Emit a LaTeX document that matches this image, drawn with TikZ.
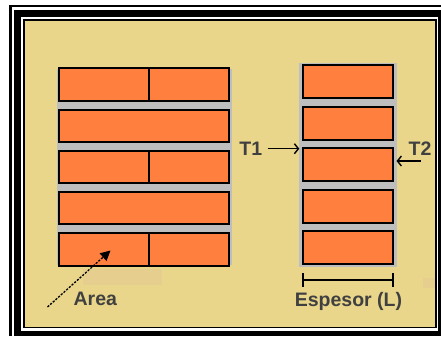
\documentclass[tikz,border=0pt]{standalone}
\usepackage{fontspec}
\setmainfont{Liberation Sans}
\usetikzlibrary{arrows.meta}
\definecolor{bg}{RGB}{233,214,138}
\definecolor{brick}{RGB}{255,127,63}
\definecolor{mortar}{RGB}{190,190,190}
\definecolor{txt}{RGB}{64,64,64}
\definecolor{tancol}{RGB}{230,206,142}
\tikzset{
  brickbox/.style={draw=black, line width=2pt, fill=brick},
  lbl/.style={inner sep=0pt, anchor=base, text=txt, font=\fontsize{19.5}{23}\selectfont\bfseries},
  tarrow/.style={line width=1.4pt, -{Straight Barb[length=4pt,width=10pt,line width=1.4pt]}},
  aarrow/.style={line width=1.3pt, dash pattern=on 2.2pt off 1.4pt, -{Triangle[length=10pt,width=10pt]}},
  bracket/.style={line width=1.8pt}
}
\begin{document}
\begin{tikzpicture}[x=1pt,y=-1pt]
\useasboundingbox (0,0) rectangle (441,341);
% frame
\fill[white] (0,0) rectangle (441,341);
\fill[black] (9.3,5) rectangle (441,336);
\fill[white] (11.7,7.3) rectangle (441,336);
\fill[black] (14,10) rectangle (441,336);
\fill[white] (21,16.7) rectangle (438.3,330.7);
\fill[black] (23.3,19.3) rectangle (436.7,328.3);
\fill[bg] (25,21) rectangle (435,326.7);
% faint tan rectangles
\fill[tancol] (83.3,269.3) rectangle (161.7,285);
\fill[tancol] (423.3,278.3) rectangle (435,288.3);
% left wall
\fill[mortar] (57.3,69) rectangle (231.7,265);
\foreach \t in {68.3,109.5,150.7,191.9,233.1}{
  \draw[brickbox] (59.3,\t) rectangle (229,\t+32.4);
}
\foreach \t in {68.3,150.7,233.1}{
  \draw[line width=2pt] (149.3,\t) -- (149.3,\t+32.4);
}
% right wall
\fill[mortar] (299.3,62.5) rectangle (396.7,267.3);
\foreach \t in {65.3,106.7,148.1,189.5,230.9}{
  \draw[brickbox] (302.7,\t) rectangle (393.3,\t+33);
}
% labels
\node[lbl] (t1) at (250.8,155.3) {T1};
\node[lbl] (t2) at (420,155.8) {T2};
\node[lbl] (area) at (95.3,305.6) {Area};
\node[lbl] (esp) at (348.5,306) {Espesor (L)};
% arrows
\coordinate (t1s) at (267.7,148.7);
\coordinate (t1e) at (299.3,148.7);
\coordinate (t2s) at (420.5,161);
\coordinate (t2e) at (396.5,161);
\coordinate (as) at (47.5,307);
\coordinate (ae) at (110.5,250.5);
\draw[tarrow] (t1s) -- (t1e);
\draw[tarrow] (t2s) -- (t2e);
\draw[aarrow] (as) -- (ae);
% thickness bracket
\coordinate (bl) at (302.7,280);
\coordinate (br) at (393.3,280);
\draw[bracket] (bl) -- (br);
\draw[bracket] ([yshift=-6.7pt]bl) -- ([yshift=6.7pt]bl);
\draw[bracket] ([yshift=-6.7pt]br) -- ([yshift=6.7pt]br);
\end{tikzpicture}
\end{document}
